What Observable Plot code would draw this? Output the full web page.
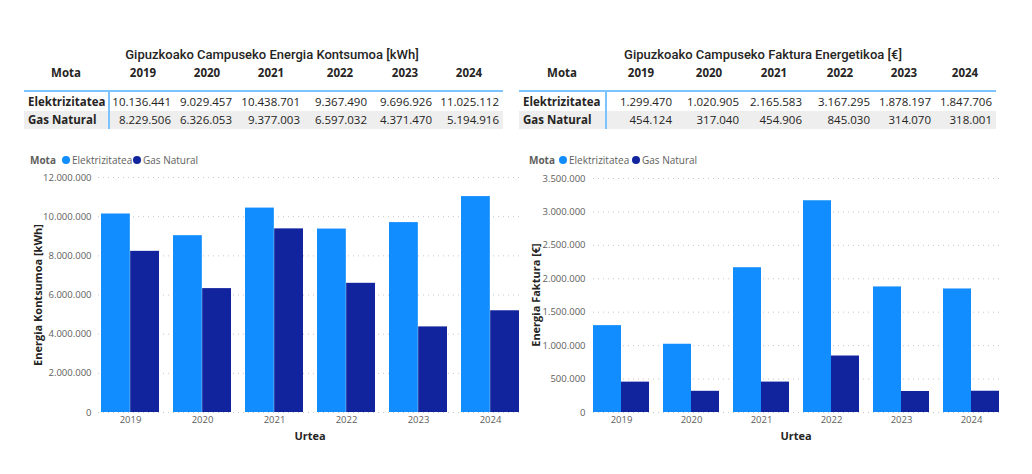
<!DOCTYPE html>
<html><head><meta charset="utf-8">
<script src="https://cdn.jsdelivr.net/npm/d3@7"></script>
<script src="https://cdn.jsdelivr.net/npm/@observablehq/plot@0.6"></script>
<style>
body{margin:0;background:#fff;}
#root{position:relative;width:1032px;height:474px;overflow:hidden;font-family:"Open Sans",sans-serif;color:#252423}
.t{position:absolute;white-space:nowrap;line-height:1}
.b{position:absolute}
svg{position:absolute;overflow:visible}
</style></head><body><div id="root"></div>
<script>
// ---- data ----
const years = ["2019", "2020", "2021", "2022", "2023", "2024"];
const types = ["Elektrizitatea", "Gas Natural"];
const colors = ["#118DFF", "#12239E"];
const kontsumoElek = [10136441, 9029457, 10438701, 9367490, 9696926, 11025112];
const kontsumoGas = [8229506, 6326053, 9377003, 6597032, 4371470, 5194916];
const fakturaElek = [1299470, 1020905, 2165583, 3167295, 1878197, 1847706];
const fakturaGas = [454124, 317040, 454906, 845030, 314070, 318001];
const kontsumoTicks = [0, 2000000, 4000000, 6000000, 8000000, 10000000, 12000000];
const fakturaTicks = [0, 500000, 1000000, 1500000, 2000000, 2500000, 3000000, 3500000];
const titles = ["Gipuzkoako Campuseko Energia Kontsumoa [kWh]", "Gipuzkoako Campuseko Faktura Energetikoa [€]"];
const yTitles = ["Energia Kontsumoa [kWh]", "Energia Faktura [€]"];
const xTitle = "Urtea";
const legendTitle = "Mota";

const loc = d3.formatLocale({decimal: ",", thousands: ".", grouping: [3], currency: ["", "€"]});
const fmt = loc.format(",d");
const root = document.getElementById("root");

function txt(s, x, y, {anchor = "start", size = 12, weight = 400, color = "#252423", family = '"Open Sans",sans-serif', rotate = 0} = {}) {
  const d = document.createElement("div");
  d.className = "t";
  d.textContent = s;
  d.style.left = x + "px";
  d.style.top = y + "px";
  d.style.fontSize = size + "px";
  d.style.fontWeight = weight;
  d.style.color = color;
  d.style.fontFamily = family;
  const tx = anchor === "start" ? "0" : anchor === "middle" ? "-50%" : "-100%";
  d.style.transform = `translate(${tx},-50%)` + (rotate ? ` rotate(${rotate}deg)` : "");
  if (rotate) d.style.transformOrigin = "50% 50%";
  root.appendChild(d);
  return d;
}
function box(x, y, w, h, bg) {
  const d = document.createElement("div");
  d.className = "b";
  Object.assign(d.style, {left: x + "px", top: y + "px", width: w + "px", height: h + "px", background: bg});
  root.appendChild(d);
}

function table(cfg, title, rowsVals) {
  box(cfg.x0, 111, cfg.x1 - cfg.x0, 18, "#EEEEEE");
  box(cfg.x0, 90, cfg.x1 - cfg.x0, 2, "#7CC4FF");
  box(cfg.vline, 91, 1.5, 38, "#7CC4FF");
  txt(title, cfg.titleX, 54, {anchor: "middle", size: 13, weight: 500, family: 'Roboto,sans-serif', color: "#252423"});
  txt(legendTitle, cfg.motaX, 73, {anchor: "middle", size: 11.5, weight: 700});
  years.forEach((y, i) => txt(y, cfg.yearX[i], 73, {anchor: "middle", size: 11.5, weight: 700}));
  const rowY = [102, 120];
  types.forEach((t, r) => {
    txt(t, cfg.labelX, rowY[r], {size: 11.5, weight: 700});
    rowsVals[r].forEach((v, i) => txt(fmt(v), cfg.valX[i], rowY[r], {anchor: "end", size: 11.5}));
  });
  // legend
  txt(legendTitle, cfg.legX, 160, {size: 10, weight: 700, color: "#605E5C"});
  types.forEach((t, k) => {
    const c = document.createElement("div");
    c.className = "b";
    Object.assign(c.style, {left: (cfg.legDot[k] - 4) + "px", top: "156px", width: "8px", height: "8px", borderRadius: "50%", background: colors[k]});
    root.appendChild(c);
    txt(t, cfg.legDot[k] + 6, 160, {size: 10, color: "#605E5C"});
  });
}

table({x0: 24, x1: 503, vline: 108, labelX: 28, motaX: 66, titleX: 272,
  yearX: [143, 207, 271, 340, 405, 469], valX: [171, 232, 300, 367, 432, 499],
  legX: 30, legDot: [66, 137]}, titles[0], [kontsumoElek, kontsumoGas]);
table({x0: 519, x1: 996, vline: 605, labelX: 523, motaX: 562, titleX: 763,
  yearX: [641, 709, 774, 840, 904, 965], valX: [672, 739, 802, 870, 931, 992],
  legX: 529, legDot: [563, 636]}, titles[1], [fakturaElek, fakturaGas]);

function chart({left, top, width, height, mL, mR, mT, mB, elek, gas, ticks, tickPad}) {
  const data = years.flatMap((y, i) => [
    {year: y, type: types[0], v: elek[i]},
    {year: y, type: types[1], v: gas[i]}
  ]);
  const pInner = 0.2;
  const step = (width - mL - mR) / (years.length - pInner);
  const half = step * (1 - pInner) / 2;
  const svg = Plot.plot({
    width, height, marginLeft: mL, marginRight: mR, marginTop: mT, marginBottom: mB,
    style: {fontFamily: '"Open Sans",sans-serif', fontSize: "9.5px", color: "#605E5C", background: "transparent"},
    x: {domain: years, paddingInner: pInner, paddingOuter: 0, axis: null},
    y: {domain: [0, ticks[ticks.length - 1]], axis: null},
    color: {domain: types, range: colors},
    marks: [
      Plot.gridY(ticks, {stroke: "#C8C6C4", strokeOpacity: 1, strokeDasharray: "1,4"}),
      Plot.barY(data.filter(d => d.type === types[0]), {x: "year", y: "v", fill: "type", insetRight: half}),
      Plot.barY(data.filter(d => d.type === types[1]), {x: "year", y: "v", fill: "type", insetLeft: half}),
      Plot.axisY(ticks, {tickSize: 0, tickPadding: tickPad, tickFormat: fmt, label: null}),
      Plot.axisX({tickSize: 0, tickPadding: 4, label: null})
    ]
  });
  svg.style.left = left + "px";
  svg.style.top = top + "px";
  root.appendChild(svg);
}

chart({left: 0, top: 170, width: 525, height: 270, mL: 98, mR: 4, mT: 7, mB: 28,
  elek: kontsumoElek, gas: kontsumoGas, ticks: kontsumoTicks, tickPad: 7});
chart({left: 512, top: 170, width: 500, height: 270, mL: 81, mR: 13, mT: 8, mB: 28,
  elek: fakturaElek, gas: fakturaGas, ticks: fakturaTicks, tickPad: 8});

txt(yTitles[0], 37, 295, {anchor: "middle", size: 11, weight: 700, rotate: -90});
txt(yTitles[1], 535, 295, {anchor: "middle", size: 11, weight: 700, rotate: -90});
txt(xTitle, 310, 435, {anchor: "middle", size: 11, weight: 700});
txt(xTitle, 796, 435, {anchor: "middle", size: 11, weight: 700});
</script></body></html>
